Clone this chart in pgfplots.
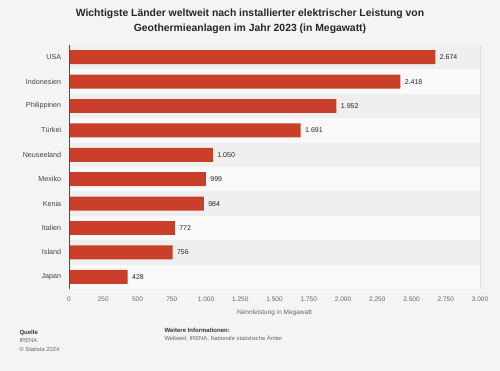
\documentclass[border=0pt]{standalone}
\usepackage{pgfplots}
\pgfplotsset{compat=1.18}
\usepackage{fontspec}
\setmainfont{Liberation Sans}
\definecolor{bg}{HTML}{F4F4F4}
\definecolor{rowA}{HTML}{EFEFEF}
\definecolor{rowB}{HTML}{F9F9F9}
\definecolor{barred}{HTML}{C93F2A}
\definecolor{gridc}{HTML}{DEDEDE}
\definecolor{tickc}{HTML}{666666}
\definecolor{labc}{HTML}{444444}
\begin{document}
\begin{tikzpicture}
% axis south west corner sits at (0,0); page is 500x371 pt, axis corner at (69pt,82pt) from page bottom-left
\fill[bg] (-69pt,-82pt) rectangle (431pt,289pt);
\begin{axis}[
  anchor=south west, at={(0pt,0pt)},
  scale only axis, width=411pt, height=244pt,
  xmin=0, xmax=3000, ymin=-0.5, ymax=9.5,
  y dir=reverse,
  xbar, bar width=0.57,
  axis line style={draw=none},
  xtick={0,250,...,3000},
  xticklabels={0,250,500,750,1.000,1.250,1.500,1.750,2.000,2.250,2.500,2.750,3.000},
  ytick={0,...,9},
  yticklabels={USA,Indonesien,Philippinen,Türkei,Neuseeland,Mexiko,Kenia,Italien,Island,Japan},
  tick style={draw=none},
  xticklabel style={font=\fontsize{6.5}{7}\selectfont, text=tickc, yshift=-4pt},
  yticklabel style={font=\fontsize{7.2}{8}\selectfont, text=labc},
  xmajorgrids, grid style={gridc, line width=0.5pt},
  xlabel={Nennleistung in Megawatt},
  xlabel style={font=\fontsize{6.5}{7}\selectfont, text=tickc, yshift=-2pt},
  nodes near coords,
  nodes near coords style={font=\fontsize{7}{8}\selectfont, text=black!85, anchor=west, xshift=1pt,
    /pgf/number format/.cd, 1000 sep={.}, fixed, assume math mode=true},
  point meta=x,
  clip=false,
]
\pgfplotsinvokeforeach{0,2,4,6,8}{
  \fill[rowA] (axis cs:0,#1-0.5) rectangle (axis cs:3000,#1+0.5);
}
\pgfplotsinvokeforeach{1,3,5,7,9}{
  \fill[rowB] (axis cs:0,#1-0.5) rectangle (axis cs:3000,#1+0.5);
}
\addplot[fill=barred, draw=none] coordinates {
(2674,0) (2418,1) (1952,2) (1691,3) (1050,4) (999,5) (984,6) (772,7) (756,8) (428,9)
};
\draw[black!70, line width=0.6pt] (axis cs:0,-0.5) -- (axis cs:0,9.5);
\end{axis}
\node[font=\bfseries\fontsize{10.4}{15}\selectfont, text=black!85, align=center] at (181pt,268pt)
  {Wichtigste Länder weltweit nach installierter elektrischer Leistung von\\Geothermieanlagen im Jahr 2023 (in Megawatt)};
\node[anchor=west, font=\bfseries\fontsize{6}{7}\selectfont, text=black!80] at (-53pt,-44pt) {Quelle};
\node[anchor=west, font=\fontsize{5.8}{7}\selectfont, text=tickc] at (-53pt,-52pt) {IRENA};
\node[anchor=west, font=\fontsize{5.8}{7}\selectfont, text=tickc] at (-53pt,-60pt) {© Statista 2024};
\node[anchor=west, font=\bfseries\fontsize{6}{7}\selectfont, text=black!80] at (92pt,-41pt) {Weitere Informationen:};
\node[anchor=west, font=\fontsize{5.8}{7}\selectfont, text=tickc] at (92pt,-49pt) {Weltweit; IRENA; Nationale statistische Ämter};
\end{tikzpicture}
\end{document}
